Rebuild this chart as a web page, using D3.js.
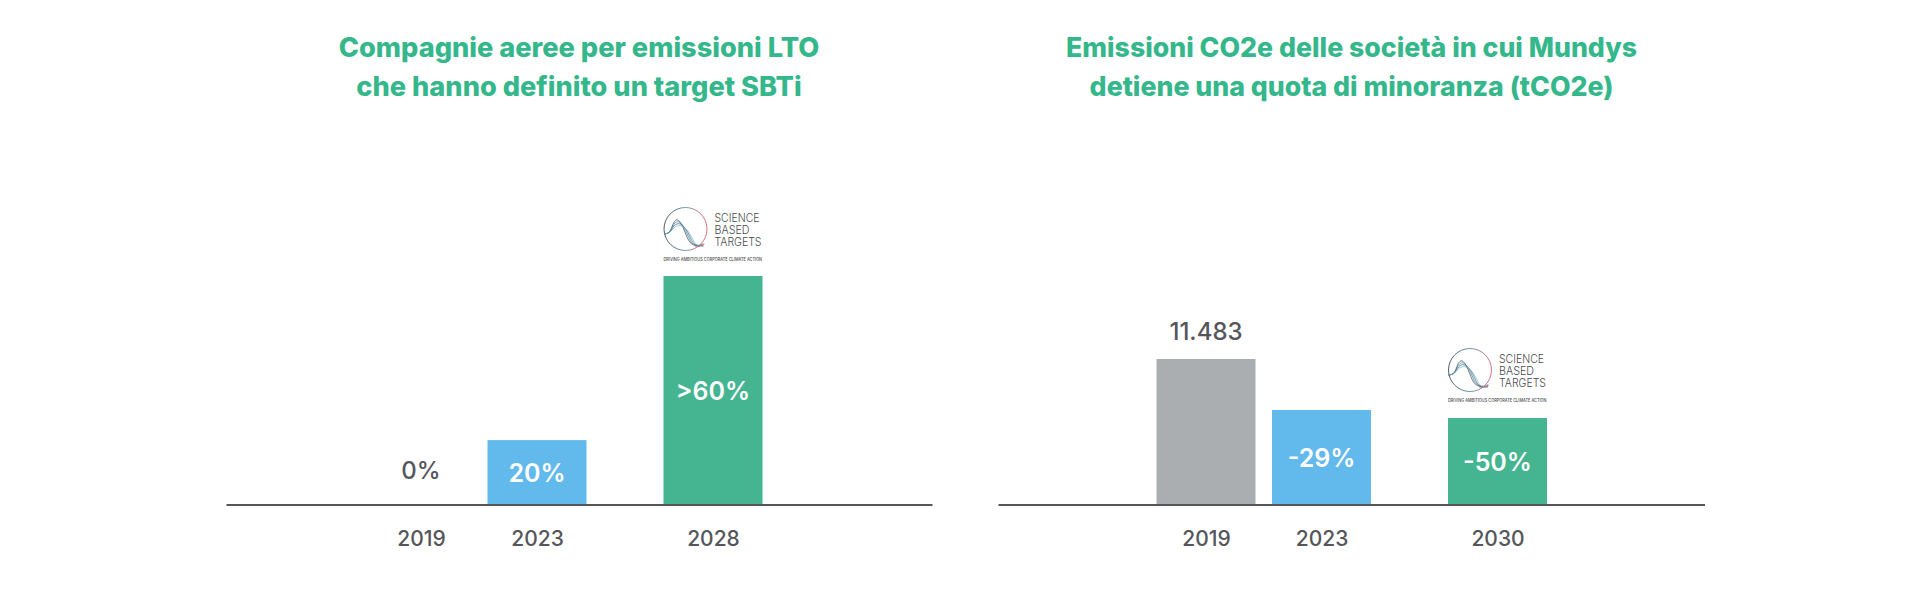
<!DOCTYPE html>
<html>
<head>
<meta charset="utf-8">
<script src="https://cdn.jsdelivr.net/npm/d3@7"></script>
<style>
  html, body { margin: 0; background: #fff; }
  text { font-family: Inter, "Open Sans", sans-serif; }
</style>
</head>
<body>
<div id="chart-div"></div>
<script>
// left chart
const leftTitle = ['Compagnie aeree per emissioni LTO', 'che hanno definito un target SBTi'];
const leftYears = [2019, 2023, 2028];
const leftValues = [0, 17, 60];
const leftLabels = ['0%', '20%', '>60%'];

// right chart
const rightTitle = ['Emissioni CO2e delle società in cui Mundys', 'detiene una quota di minoranza (tCO2e)'];
const rightYears = [2019, 2023, 2030];
const rightValues = [11483, 7470, 6840];
const rightLabels = ['11.483', '-29%', '-50%'];

const w = 1930;
const h = 600;
const baseY = 505;
const barW = 99;
const titleColor = '#35b78c';
const textColor = '#55565b';
const logoTagline = 'DRIVING AMBITIOUS CORPORATE CLIMATE ACTION';

const svg = d3.select('#chart-div')
  .append('svg')
  .attr('width', w)
  .attr('height', h)
  .style('display', 'block');

const defs = svg.append('defs');
const ringGrad = defs.append('linearGradient').attr('id', 'ring');
ringGrad.append('stop').attr('offset', '0%').attr('stop-color', '#3d4650');
ringGrad.append('stop').attr('offset', '50%').attr('stop-color', '#5d8fa8');
ringGrad.append('stop').attr('offset', '100%').attr('stop-color', '#d9626b');

const drawLogo = (x, y) => {
  // x,y = left edge of the logo block, top of the bar below it
  const g = svg.append('g').attr('transform', `translate(${x},${y})`);
  const cx = 22, cy = -47, r = 21.5;
  g.append('circle')
    .attr('cx', cx).attr('cy', cy).attr('r', r)
    .attr('fill', 'none')
    .attr('stroke', 'url(#ring)')
    .attr('stroke-width', 0.9);

  const curve = d3.line().curve(d3.curveBasis);
  const strands = [[0, '#39424e'], [1, '#3f7f9c'], [2, '#2f6d87'], [3, '#7fb2c6']];
  strands.forEach(([i, col]) => {
    g.append('path')
      .attr('d', curve([
        [cx - r, cy + 5], [cx - 15, cy + 4], [cx - 12, cy - 8 + i * 2],
        [cx - 7 + i, cy - 11 + i * 2], [cx - 1 + i * 2, cy + 1 + i],
        [cx + 3 + i * 2, cy + 13 + i], [cx + 9 + i * 2, cy + 17], [cx + 18, cy + 17 - i]
      ]))
      .attr('fill', 'none')
      .attr('stroke', col)
      .attr('stroke-width', 0.7);
  });
  g.append('path')
    .attr('d', curve([[cx + 9, cy + 17], [cx + 13, cy + 18], [cx + 19, cy + 15]]))
    .attr('fill', 'none')
    .attr('stroke', '#d9626b')
    .attr('stroke-width', 0.8);

  g.selectAll('.logo-word')
    .data(['SCIENCE', 'BASED', 'TARGETS'])
    .enter()
    .append('text')
    .attr('x', 51)
    .attr('y', (d, i) => -54 + i * 12)
    .attr('font-size', 11)
    .attr('font-weight', 300)
    .attr('fill', '#4a4a4c')
    .attr('textLength', (d, i) => [45, 35, 47][i])
    .attr('lengthAdjust', 'spacingAndGlyphs')
    .text(d => d);

  g.append('text')
    .attr('x', 0)
    .attr('y', -15.5)
    .attr('font-size', 4.2)
    .attr('font-weight', 500)
    .attr('fill', '#4a4a4c')
    .attr('textLength', 98.5)
    .attr('lengthAdjust', 'spacingAndGlyphs')
    .text(logoTagline);
};

const drawPanel = (opts) => {
  const { title, years, values, labels, centers, axisX, colors, titleX, yScale, titleSize } = opts;

  const g = svg.append('g');
  const x = d3.scaleLinear().domain(years).range(centers);

  g.selectAll('.title')
    .data(title)
    .enter()
    .append('text')
    .attr('x', titleX)
    .attr('y', (d, i) => 57 + i * 38.5)
    .attr('text-anchor', 'middle')
    .attr('font-size', titleSize)
    .attr('font-weight', 800)
    .attr('fill', titleColor)
    .text(d => d);

  g.selectAll('rect')
    .data(values)
    .enter()
    .append('rect')
    .attr('x', (d, i) => x(years[i]) - barW / 2)
    .attr('y', d => yScale(d))
    .attr('width', barW)
    .attr('height', d => baseY - yScale(d))
    .attr('fill', (d, i) => colors[i]);

  g.append('line')
    .attr('x1', axisX[0])
    .attr('x2', axisX[1])
    .attr('y1', baseY)
    .attr('y2', baseY)
    .attr('stroke', '#55565a')
    .attr('stroke-width', 2.2);

  const axis = d3.axisBottom(x)
    .tickValues(years)
    .tickFormat(d3.format('d'))
    .tickSize(0)
    .tickPadding(0);

  g.append('g')
    .attr('transform', `translate(0,${baseY + 26})`)
    .call(axis)
    .call(a => a.select('.domain').remove())
    .selectAll('text')
    .attr('font-size', 21)
    .attr('font-weight', 500)
    .attr('fill', textColor)
    .attr('font-family', 'Inter');

  g.selectAll('.value')
    .data(values)
    .enter()
    .append('text')
    .attr('x', (d, i) => x(years[i]))
    .attr('y', (d, i) => {
      if (d === 0) return baseY - 35;
      if (labels[i].endsWith('%')) return (yScale(d) + baseY) / 2;
      return yScale(d) - 28;
    })
    .attr('dy', '0.36em')
    .attr('text-anchor', 'middle')
    .attr('font-size', (d, i) => labels[i].endsWith('%') && d > 0 ? 25 : 24)
    .attr('font-weight', (d, i) => labels[i].endsWith('%') && d > 0 ? 600 : 500)
    .attr('fill', (d, i) => labels[i].endsWith('%') && d > 0 ? '#fff' : textColor)
    .text((d, i) => labels[i]);
};

drawPanel({
  title: leftTitle,
  years: leftYears,
  values: leftValues,
  labels: leftLabels,
  centers: [421, 537, 713],
  axisX: [226.5, 932.5],
  colors: ['none', '#62b9eb', '#44b491'],
  titleX: 579,
  titleSize: 27.2,
  yScale: d3.scaleLinear().domain([0, 60]).range([baseY, 276])
});

drawPanel({
  title: rightTitle,
  years: rightYears,
  values: rightValues,
  labels: rightLabels,
  centers: [1206, 1321.5, 1497.5],
  axisX: [998.5, 1705],
  colors: ['#abaeb0', '#62b9eb', '#44b491'],
  titleX: 1351.5,
  titleSize: 26.7,
  yScale: d3.scaleLinear().domain([0, 11483]).range([baseY, 359])
});

drawLogo(663.5, 276);
drawLogo(1448, 417);
</script>
</body>
</html>
